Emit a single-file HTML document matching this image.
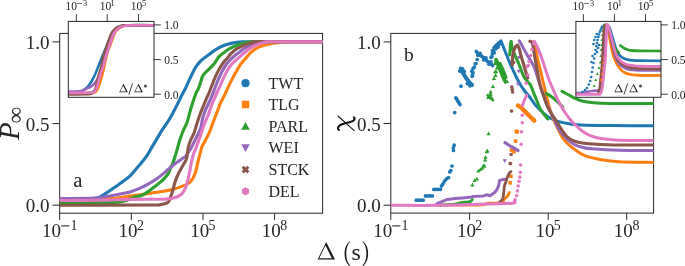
<!DOCTYPE html><html><head><meta charset="utf-8"><style>html,body{margin:0;padding:0;background:#fff;width:685px;height:266px;overflow:hidden}svg{display:block;will-change:transform}text{font-family:"Liberation Serif", serif;fill:#252525}</style></head><body>
<svg width="685" height="266" viewBox="0 0 685 266">
<defs>
<clipPath id="cl"><rect x="59.7" y="33.4" width="262.90000000000003" height="179.79999999999998"/></clipPath>
<clipPath id="cr"><rect x="390.8" y="33.4" width="262.8" height="179.7"/></clipPath>
<clipPath id="cli"><rect x="68.3" y="21.4" width="85.7" height="75.9"/></clipPath>
<clipPath id="cri"><rect x="575.9" y="21.4" width="85.10000000000002" height="75.9"/></clipPath>
</defs>
<rect x="59.7" y="33.4" width="262.90" height="179.80" fill="none" stroke="#262626" stroke-width="1"/>
<line x1="52.50" y1="205.20" x2="59.70" y2="205.20" stroke="#262626" stroke-width="1"/>
<text x="49.60" y="212.40" font-size="19" text-anchor="end">0.0</text>
<line x1="52.50" y1="123.55" x2="59.70" y2="123.55" stroke="#262626" stroke-width="1"/>
<text x="49.60" y="130.75" font-size="19" text-anchor="end">0.5</text>
<line x1="52.50" y1="41.90" x2="59.70" y2="41.90" stroke="#262626" stroke-width="1"/>
<text x="49.60" y="49.10" font-size="19" text-anchor="end">1.0</text>
<line x1="59.70" y1="213.20" x2="59.70" y2="220.00" stroke="#262626" stroke-width="1"/>
<text x="42.03" y="236.80" font-size="19">10</text>
<rect x="61.11" y="225.40" width="8.20" height="1.00" fill="#1a1a1a"/>
<text x="70.48" y="229.80" font-size="13.9">1</text>
<line x1="131.30" y1="213.20" x2="131.30" y2="220.00" stroke="#262626" stroke-width="1"/>
<text x="118.59" y="236.80" font-size="19">10</text>
<text x="137.05" y="229.80" font-size="13.9">2</text>
<line x1="203.00" y1="213.20" x2="203.00" y2="220.00" stroke="#262626" stroke-width="1"/>
<text x="190.27" y="236.80" font-size="19">10</text>
<text x="208.55" y="229.80" font-size="13.9">5</text>
<line x1="274.60" y1="213.20" x2="274.60" y2="220.00" stroke="#262626" stroke-width="1"/>
<text x="261.73" y="236.80" font-size="19">10</text>
<text x="280.28" y="229.80" font-size="13.9">8</text>
<path d="M59.00,199.30 C63.33,199.28 79.17,199.33 85.00,199.20 C90.83,199.07 91.50,198.90 94.00,198.50 C96.50,198.10 97.75,197.83 100.00,196.80 C102.25,195.77 105.00,193.92 107.50,192.30 C110.00,190.68 112.48,188.85 115.00,187.10 C117.52,185.35 120.08,183.68 122.60,181.80 C125.12,179.92 127.85,177.93 130.10,175.80 C132.35,173.67 134.43,170.90 136.10,169.00 C137.77,167.10 138.30,166.63 140.10,164.40 C141.90,162.17 144.92,158.48 146.90,155.60 C148.88,152.72 150.32,149.93 152.00,147.10 C153.68,144.27 155.32,141.42 157.00,138.60 C158.68,135.78 160.12,133.30 162.10,130.20 C164.08,127.10 166.93,123.18 168.90,120.00 C170.87,116.82 172.40,113.90 173.90,111.10 C175.40,108.30 176.58,105.83 177.90,103.20 C179.22,100.57 180.57,97.70 181.80,95.30 C183.03,92.90 184.17,91.13 185.30,88.80 C186.43,86.47 187.50,83.68 188.60,81.30 C189.70,78.92 190.88,76.58 191.90,74.50 C192.92,72.42 193.77,70.45 194.70,68.80 C195.63,67.15 196.57,65.85 197.50,64.60 C198.43,63.35 199.35,62.25 200.30,61.30 C201.25,60.35 202.10,59.77 203.20,58.90 C204.30,58.03 205.65,57.03 206.90,56.10 C208.15,55.17 209.45,54.23 210.70,53.30 C211.95,52.37 213.00,51.45 214.40,50.50 C215.80,49.55 217.53,48.43 219.10,47.60 C220.67,46.77 222.23,46.10 223.80,45.50 C225.37,44.90 226.93,44.43 228.50,44.00 C230.07,43.57 231.38,43.23 233.20,42.90 C235.02,42.57 236.60,42.20 239.40,42.00 C242.20,41.80 236.07,41.75 250.00,41.70 C263.93,41.65 310.83,41.70 323.00,41.70" fill="none" stroke="#1f77b4" stroke-width="3.1" stroke-linejoin="round" stroke-linecap="round" clip-path="url(#cl)"/>
<path d="M59.00,199.80 C65.83,199.72 90.35,199.60 100.00,199.30 C109.65,199.00 111.90,198.53 116.90,198.00 C121.90,197.47 125.30,196.77 130.00,196.10 C134.70,195.43 140.08,194.72 145.10,194.00 C150.12,193.28 155.58,192.57 160.10,191.80 C164.62,191.03 168.88,190.18 172.20,189.40 C175.52,188.62 177.87,187.80 180.00,187.10 C182.13,186.40 183.65,185.78 185.00,185.20 C186.35,184.62 187.10,184.30 188.10,183.60 C189.10,182.90 190.15,181.98 191.00,181.00 C191.85,180.02 192.53,178.95 193.20,177.70 C193.87,176.45 194.45,175.03 195.00,173.50 C195.55,171.97 196.03,170.33 196.50,168.50 C196.97,166.67 197.35,164.42 197.80,162.50 C198.25,160.58 198.75,158.72 199.20,157.00 C199.65,155.28 200.03,153.95 200.50,152.20 C200.97,150.45 201.32,148.20 202.00,146.50 C202.68,144.80 203.67,143.75 204.60,142.00 C205.53,140.25 206.70,137.83 207.60,136.00 C208.50,134.17 209.25,132.83 210.00,131.00 C210.75,129.17 211.20,127.45 212.10,125.00 C213.00,122.55 214.30,119.17 215.40,116.30 C216.50,113.43 217.90,109.93 218.70,107.80 C219.50,105.67 219.57,104.92 220.20,103.50 C220.83,102.08 221.77,100.72 222.50,99.30 C223.23,97.88 223.58,97.17 224.60,95.00 C225.62,92.83 227.28,89.07 228.60,86.30 C229.92,83.53 231.20,80.92 232.50,78.40 C233.80,75.88 235.08,73.50 236.40,71.20 C237.72,68.90 239.17,66.38 240.40,64.60 C241.63,62.82 242.40,62.17 243.80,60.50 C245.20,58.83 247.18,56.30 248.80,54.60 C250.42,52.90 251.93,51.50 253.50,50.30 C255.07,49.10 256.63,48.17 258.20,47.40 C259.77,46.63 261.33,46.18 262.90,45.70 C264.47,45.22 265.83,44.90 267.60,44.50 C269.37,44.10 271.43,43.65 273.50,43.30 C275.57,42.95 277.25,42.65 280.00,42.40 C282.75,42.15 282.83,41.92 290.00,41.80 C297.17,41.68 317.50,41.72 323.00,41.70" fill="none" stroke="#ff7f0e" stroke-width="3.1" stroke-linejoin="round" stroke-linecap="round" clip-path="url(#cl)"/>
<path d="M59.00,202.50 C65.83,202.50 90.17,202.55 100.00,202.50 C109.83,202.45 113.67,202.53 118.00,202.20 C122.33,201.87 123.50,201.27 126.00,200.50 C128.50,199.73 130.33,198.48 133.00,197.60 C135.67,196.72 139.48,196.20 142.00,195.20 C144.52,194.20 146.08,192.95 148.10,191.60 C150.12,190.25 152.10,188.63 154.10,187.10 C156.10,185.57 158.35,183.90 160.10,182.40 C161.85,180.90 163.22,179.60 164.60,178.10 C165.98,176.60 167.35,175.17 168.40,173.40 C169.45,171.63 170.05,169.52 170.90,167.50 C171.75,165.48 172.73,163.38 173.50,161.30 C174.27,159.22 174.92,156.88 175.50,155.00 C176.08,153.12 176.25,152.58 177.00,150.00 C177.75,147.42 178.95,142.75 180.00,139.50 C181.05,136.25 182.17,133.25 183.30,130.50 C184.43,127.75 185.83,125.58 186.80,123.00 C187.77,120.42 188.28,117.87 189.10,115.00 C189.92,112.13 190.83,108.65 191.70,105.80 C192.57,102.95 193.53,100.12 194.30,97.90 C195.07,95.68 195.63,94.00 196.30,92.50 C196.97,91.00 197.57,90.65 198.30,88.90 C199.03,87.15 200.15,83.67 200.70,82.00 C201.25,80.33 201.32,79.82 201.60,78.90 C201.88,77.98 201.75,77.57 202.40,76.50 C203.05,75.43 204.32,73.82 205.50,72.50 C206.68,71.18 208.18,69.92 209.50,68.60 C210.82,67.28 212.42,65.70 213.40,64.60 C214.38,63.50 214.82,62.83 215.40,62.00 C215.98,61.17 216.28,60.50 216.90,59.60 C217.52,58.70 217.95,57.77 219.10,56.60 C220.25,55.43 222.23,53.82 223.80,52.60 C225.37,51.38 226.93,50.27 228.50,49.30 C230.07,48.33 231.63,47.55 233.20,46.80 C234.77,46.05 236.03,45.42 237.90,44.80 C239.77,44.18 242.38,43.55 244.40,43.10 C246.42,42.65 247.73,42.33 250.00,42.10 C252.27,41.87 245.83,41.77 258.00,41.70 C270.17,41.63 312.17,41.70 323.00,41.70" fill="none" stroke="#2ca02c" stroke-width="3.1" stroke-linejoin="round" stroke-linecap="round" clip-path="url(#cl)"/>
<path d="M59.00,198.50 C64.17,198.48 83.17,198.55 90.00,198.40 C96.83,198.25 96.45,198.03 100.00,197.60 C103.55,197.17 107.53,196.48 111.30,195.80 C115.07,195.12 119.48,194.15 122.60,193.50 C125.72,192.85 127.27,192.72 130.00,191.90 C132.73,191.08 135.98,189.90 139.00,188.60 C142.02,187.30 145.08,185.78 148.10,184.10 C151.12,182.42 154.10,180.63 157.10,178.50 C160.10,176.37 163.78,173.22 166.10,171.30 C168.42,169.38 169.35,168.38 171.00,167.00 C172.65,165.62 174.17,164.37 176.00,163.00 C177.83,161.63 180.37,159.97 182.00,158.80 C183.63,157.63 184.80,157.03 185.80,156.00 C186.80,154.97 187.12,153.93 188.00,152.60 C188.88,151.27 190.08,149.77 191.10,148.00 C192.12,146.23 193.10,144.00 194.10,142.00 C195.10,140.00 196.10,138.08 197.10,136.00 C198.10,133.92 199.35,131.50 200.10,129.50 C200.85,127.50 201.12,126.08 201.60,124.00 C202.08,121.92 202.23,119.60 203.00,117.00 C203.77,114.40 205.12,110.98 206.20,108.40 C207.28,105.82 208.45,103.82 209.50,101.50 C210.55,99.18 211.50,97.00 212.50,94.50 C213.50,92.00 214.47,89.15 215.50,86.50 C216.53,83.85 217.62,81.08 218.70,78.60 C219.78,76.12 220.80,73.87 222.00,71.60 C223.20,69.33 224.58,66.90 225.90,65.00 C227.22,63.10 228.43,61.73 229.90,60.20 C231.37,58.67 233.12,57.15 234.70,55.80 C236.28,54.45 237.83,53.32 239.40,52.10 C240.97,50.88 242.53,49.52 244.10,48.50 C245.67,47.48 247.23,46.77 248.80,46.00 C250.37,45.23 251.93,44.45 253.50,43.90 C255.07,43.35 256.28,43.03 258.20,42.70 C260.12,42.37 262.20,42.07 265.00,41.90 C267.80,41.73 265.33,41.73 275.00,41.70 C284.67,41.67 315.00,41.70 323.00,41.70" fill="none" stroke="#9467bd" stroke-width="3.1" stroke-linejoin="round" stroke-linecap="round" clip-path="url(#cl)"/>
<path d="M59.00,205.30 C74.17,205.25 133.17,205.12 150.00,205.00 C166.83,204.88 157.58,204.80 160.00,204.60 C162.42,204.40 163.12,204.23 164.50,203.80 C165.88,203.37 167.25,203.23 168.30,202.00 C169.35,200.77 169.98,198.57 170.80,196.40 C171.62,194.23 172.55,191.23 173.20,189.00 C173.85,186.77 173.93,185.33 174.70,183.00 C175.47,180.67 176.78,177.30 177.80,175.00 C178.82,172.70 179.90,170.87 180.80,169.20 C181.70,167.53 182.33,166.53 183.20,165.00 C184.07,163.47 185.35,161.50 186.00,160.00 C186.65,158.50 186.82,157.42 187.10,156.00 C187.38,154.58 187.45,153.17 187.70,151.50 C187.95,149.83 188.03,148.08 188.60,146.00 C189.17,143.92 190.18,141.17 191.10,139.00 C192.02,136.83 193.23,135.25 194.10,133.00 C194.97,130.75 195.38,128.42 196.30,125.50 C197.22,122.58 198.50,118.57 199.60,115.50 C200.70,112.43 201.80,109.82 202.90,107.10 C204.00,104.38 205.15,101.63 206.20,99.20 C207.25,96.77 208.30,94.65 209.20,92.50 C210.10,90.35 210.68,88.65 211.60,86.30 C212.52,83.95 213.63,80.88 214.70,78.40 C215.77,75.92 216.90,73.53 218.00,71.40 C219.10,69.27 220.25,67.25 221.30,65.60 C222.35,63.95 223.27,62.77 224.30,61.50 C225.33,60.23 226.47,59.23 227.50,58.00 C228.53,56.77 229.30,55.40 230.50,54.10 C231.70,52.80 233.22,51.32 234.70,50.20 C236.18,49.08 237.83,48.22 239.40,47.40 C240.97,46.58 242.53,45.93 244.10,45.30 C245.67,44.67 247.23,44.08 248.80,43.60 C250.37,43.12 251.93,42.70 253.50,42.40 C255.07,42.10 246.62,41.92 258.20,41.80 C269.78,41.68 312.20,41.72 323.00,41.70" fill="none" stroke="#8c564b" stroke-width="3.1" stroke-linejoin="round" stroke-linecap="round" clip-path="url(#cl)"/>
<path d="M59.00,200.50 C65.83,200.47 88.17,200.48 100.00,200.30 C111.83,200.12 120.00,199.58 130.00,199.40 C140.00,199.22 153.72,199.28 160.00,199.20 C166.28,199.12 165.30,199.15 167.70,198.90 C170.10,198.65 172.68,198.13 174.40,197.70 C176.12,197.27 176.77,196.95 178.00,196.30 C179.23,195.65 180.72,194.85 181.80,193.80 C182.88,192.75 183.68,191.60 184.50,190.00 C185.32,188.40 185.93,186.77 186.70,184.20 C187.47,181.63 188.33,178.13 189.10,174.60 C189.87,171.07 190.67,166.10 191.30,163.00 C191.93,159.90 192.30,158.08 192.90,156.00 C193.50,153.92 193.98,152.92 194.90,150.50 C195.82,148.08 197.32,144.50 198.40,141.50 C199.48,138.50 200.42,135.42 201.40,132.50 C202.38,129.58 203.17,126.92 204.30,124.00 C205.43,121.08 207.02,118.03 208.20,115.00 C209.38,111.97 210.32,108.65 211.40,105.80 C212.48,102.95 213.68,100.28 214.70,97.90 C215.72,95.52 216.62,93.43 217.50,91.50 C218.38,89.57 219.03,88.48 220.00,86.30 C220.97,84.12 222.10,81.00 223.30,78.40 C224.50,75.80 225.88,72.97 227.20,70.70 C228.52,68.43 229.98,66.35 231.20,64.80 C232.42,63.25 233.37,62.48 234.50,61.40 C235.63,60.32 236.85,59.32 238.00,58.30 C239.15,57.28 240.38,56.18 241.40,55.30 C242.42,54.42 242.87,54.00 244.10,53.00 C245.33,52.00 247.23,50.42 248.80,49.30 C250.37,48.18 251.93,47.17 253.50,46.30 C255.07,45.43 256.63,44.70 258.20,44.10 C259.77,43.50 261.33,43.07 262.90,42.70 C264.47,42.33 265.58,42.07 267.60,41.90 C269.62,41.73 265.77,41.73 275.00,41.70 C284.23,41.67 315.00,41.70 323.00,41.70" fill="none" stroke="#e377c2" stroke-width="3.1" stroke-linejoin="round" stroke-linecap="round" clip-path="url(#cl)"/>
<circle cx="245.5" cy="83.2" r="4.1" fill="#1f77b4"/>
<rect x="241.8" y="100.8" width="7.4" height="7.4" fill="#ff7f0e"/>
<path d="M245.5,121.9 L249.8,129.7 L241.2,129.7Z" fill="#2ca02c"/>
<path d="M245.5,152.10000000000002 L249.8,144.3 L241.2,144.3Z" fill="#9467bd"/>
<path d="M241.6,167.85 L243.75,165.7 L245.5,167.5 L247.25,165.7 L249.4,167.85 L247.6,169.6 L249.4,171.35 L247.25,173.5 L245.5,171.7 L243.75,173.5 L241.6,171.35 L243.4,169.6Z" fill="#8c564b"/>
<polygon points="245.50,195.40 241.95,193.35 241.95,189.25 245.50,187.20 249.05,189.25 249.05,193.35" fill="#e377c2"/>
<text x="268.50" y="88.50" font-size="16" text-anchor="start">TWT</text>
<text x="268.50" y="109.80" font-size="16" text-anchor="start">TLG</text>
<text x="268.50" y="131.50" font-size="16" text-anchor="start">PARL</text>
<text x="268.50" y="153.10" font-size="16" text-anchor="start">WEI</text>
<text x="268.50" y="174.90" font-size="16" text-anchor="start">STCK</text>
<text x="268.50" y="196.60" font-size="16" text-anchor="start">DEL</text>
<text x="73.2" y="187.2" font-size="20" textLength="9.2" lengthAdjust="spacingAndGlyphs">a</text>
<rect x="68.3" y="21.4" width="85.70" height="75.90" fill="#fff" stroke="none"/>
<path d="M67.00,92.60 C68.83,92.57 75.35,92.73 78.00,92.40 C80.65,92.07 81.13,91.72 82.90,90.60 C84.67,89.48 86.72,88.08 88.60,85.70 C90.48,83.32 92.48,79.75 94.20,76.30 C95.92,72.85 97.48,68.45 98.90,65.00 C100.32,61.55 101.60,58.27 102.70,55.60 C103.80,52.93 104.53,51.35 105.50,49.00 C106.47,46.65 107.50,43.92 108.50,41.50 C109.50,39.08 110.50,36.42 111.50,34.50 C112.50,32.58 113.42,31.22 114.50,30.00 C115.58,28.78 116.58,27.93 118.00,27.20 C119.42,26.47 121.00,25.93 123.00,25.60 C125.00,25.27 124.67,25.27 130.00,25.20 C135.33,25.13 150.83,25.20 155.00,25.20" fill="none" stroke="#1f77b4" stroke-width="2.6" stroke-linejoin="round" stroke-linecap="round" clip-path="url(#cli)"/>
<path d="M67.00,93.00 C71.17,92.97 87.17,93.05 92.00,92.80 C96.83,92.55 94.92,92.47 96.00,91.50 C97.08,90.53 97.58,89.33 98.50,87.00 C99.42,84.67 100.67,80.33 101.50,77.50 C102.33,74.67 102.82,72.92 103.50,70.00 C104.18,67.08 104.77,63.50 105.60,60.00 C106.43,56.50 107.75,51.40 108.50,49.00 C109.25,46.60 109.08,48.18 110.10,45.60 C111.12,43.02 113.32,36.18 114.60,33.50 C115.88,30.82 116.60,30.62 117.80,29.50 C119.00,28.38 120.20,27.47 121.80,26.80 C123.40,26.13 125.53,25.77 127.40,25.50 C129.27,25.23 128.40,25.25 133.00,25.20 C137.60,25.15 151.33,25.20 155.00,25.20" fill="none" stroke="#ff7f0e" stroke-width="2.6" stroke-linejoin="round" stroke-linecap="round" clip-path="url(#cli)"/>
<path d="M67.00,93.40 C70.17,93.37 81.83,93.37 86.00,93.20 C90.17,93.03 90.33,93.18 92.00,92.40 C93.67,91.62 94.75,91.07 96.00,88.50 C97.25,85.93 98.42,80.92 99.50,77.00 C100.58,73.08 101.58,68.67 102.50,65.00 C103.42,61.33 104.08,58.33 105.00,55.00 C105.92,51.67 107.00,48.08 108.00,45.00 C109.00,41.92 110.00,38.83 111.00,36.50 C112.00,34.17 112.92,32.45 114.00,31.00 C115.08,29.55 116.17,28.67 117.50,27.80 C118.83,26.93 120.25,26.23 122.00,25.80 C123.75,25.37 122.50,25.30 128.00,25.20 C133.50,25.10 150.50,25.20 155.00,25.20" fill="none" stroke="#2ca02c" stroke-width="2.6" stroke-linejoin="round" stroke-linecap="round" clip-path="url(#cli)"/>
<path d="M67.00,91.60 C69.17,91.55 77.03,91.65 80.00,91.30 C82.97,90.95 82.75,90.43 84.80,89.50 C86.85,88.57 90.27,87.27 92.30,85.70 C94.33,84.13 95.58,82.60 97.00,80.10 C98.42,77.60 99.53,74.15 100.80,70.70 C102.07,67.25 103.35,63.10 104.60,59.40 C105.85,55.70 107.15,51.90 108.30,48.50 C109.45,45.10 110.47,41.72 111.50,39.00 C112.53,36.28 113.42,34.00 114.50,32.20 C115.58,30.40 116.67,29.20 118.00,28.20 C119.33,27.20 120.83,26.65 122.50,26.20 C124.17,25.75 122.58,25.63 128.00,25.50 C133.42,25.37 150.50,25.42 155.00,25.40" fill="none" stroke="#9467bd" stroke-width="2.6" stroke-linejoin="round" stroke-linecap="round" clip-path="url(#cli)"/>
<path d="M67.00,94.40 C70.50,94.38 83.78,94.48 88.00,94.30 C92.22,94.12 91.10,94.10 92.30,93.30 C93.50,92.50 94.25,92.02 95.20,89.50 C96.15,86.98 96.92,82.28 98.00,78.20 C99.08,74.12 100.95,68.03 101.70,65.00 C102.45,61.97 101.95,62.25 102.50,60.00 C103.05,57.75 104.25,53.90 105.00,51.50 C105.75,49.10 106.28,47.68 107.00,45.60 C107.72,43.52 108.55,41.02 109.30,39.00 C110.05,36.98 110.63,35.08 111.50,33.50 C112.37,31.92 113.42,30.58 114.50,29.50 C115.58,28.42 116.58,27.67 118.00,27.00 C119.42,26.33 121.33,25.80 123.00,25.50 C124.67,25.20 122.67,25.25 128.00,25.20 C133.33,25.15 150.50,25.20 155.00,25.20" fill="none" stroke="#8c564b" stroke-width="2.6" stroke-linejoin="round" stroke-linecap="round" clip-path="url(#cli)"/>
<path d="M67.00,92.90 C70.83,92.87 85.47,92.87 90.00,92.70 C94.53,92.53 93.03,92.90 94.20,91.90 C95.37,90.90 96.05,89.30 97.00,86.70 C97.95,84.10 98.80,79.92 99.90,76.30 C101.00,72.68 102.78,67.72 103.60,65.00 C104.42,62.28 104.20,62.17 104.80,60.00 C105.40,57.83 106.45,54.40 107.20,52.00 C107.95,49.60 108.58,47.77 109.30,45.60 C110.02,43.43 110.75,41.02 111.50,39.00 C112.25,36.98 112.88,35.08 113.80,33.50 C114.72,31.92 115.80,30.62 117.00,29.50 C118.20,28.38 119.40,27.47 121.00,26.80 C122.60,26.13 124.77,25.77 126.60,25.50 C128.43,25.23 127.27,25.25 132.00,25.20 C136.73,25.15 151.17,25.20 155.00,25.20" fill="none" stroke="#e377c2" stroke-width="2.6" stroke-linejoin="round" stroke-linecap="round" clip-path="url(#cli)"/>
<rect x="68.3" y="21.4" width="85.70" height="75.90" fill="none" stroke="#262626" stroke-width="1"/>
<line x1="76.35" y1="14.20" x2="76.35" y2="21.40" stroke="#262626" stroke-width="0.9"/>
<text x="65.42" y="10.10" font-size="11.5">10</text>
<rect x="76.97" y="3.20" width="4.96" height="0.61" fill="#1a1a1a"/>
<text x="82.98" y="5.60" font-size="8.4">3</text>
<line x1="107.20" y1="14.20" x2="107.20" y2="21.40" stroke="#262626" stroke-width="0.9"/>
<text x="99.73" y="10.10" font-size="11.5">10</text>
<text x="110.54" y="5.60" font-size="8.4">1</text>
<line x1="138.50" y1="14.20" x2="138.50" y2="21.40" stroke="#262626" stroke-width="0.9"/>
<text x="130.82" y="10.10" font-size="11.5">10</text>
<text x="141.88" y="5.60" font-size="8.4">5</text>
<line x1="154.00" y1="94.20" x2="160.80" y2="94.20" stroke="#262626" stroke-width="0.9"/>
<text x="164.20" y="98.50" font-size="11.5" text-anchor="start">0.0</text>
<line x1="154.00" y1="59.55" x2="160.80" y2="59.55" stroke="#262626" stroke-width="0.9"/>
<text x="164.20" y="63.85" font-size="11.5" text-anchor="start">0.5</text>
<line x1="154.00" y1="24.90" x2="160.80" y2="24.90" stroke="#262626" stroke-width="0.9"/>
<text x="164.20" y="29.20" font-size="11.5" text-anchor="start">1.0</text>
<path d="M123.45,83.80 L127.80,92.30 L119.20,92.30 Z M123.09,85.63 L120.16,91.50 L126.10,91.50 Z" fill="#1a1a1a" fill-rule="evenodd"/>
<line x1="128.80" y1="94.6" x2="132.60" y2="83.4" stroke="#1a1a1a" stroke-width="0.85"/>
<path d="M138.50,83.80 L142.90,92.30 L134.20,92.30 Z M138.14,85.61 L135.16,91.50 L141.19,91.50 Z" fill="#1a1a1a" fill-rule="evenodd"/>
<circle cx="145.40" cy="86.0" r="1.55" fill="#505050"/>
<rect x="390.8" y="33.4" width="262.80" height="179.70" fill="none" stroke="#262626" stroke-width="1"/>
<line x1="383.60" y1="205.20" x2="390.80" y2="205.20" stroke="#262626" stroke-width="1"/>
<text x="380.70" y="212.40" font-size="19" text-anchor="end">0.0</text>
<line x1="383.60" y1="123.55" x2="390.80" y2="123.55" stroke="#262626" stroke-width="1"/>
<text x="380.70" y="130.75" font-size="19" text-anchor="end">0.5</text>
<line x1="383.60" y1="41.90" x2="390.80" y2="41.90" stroke="#262626" stroke-width="1"/>
<text x="380.70" y="49.10" font-size="19" text-anchor="end">1.0</text>
<line x1="390.80" y1="213.10" x2="390.80" y2="219.90" stroke="#262626" stroke-width="1"/>
<text x="373.13" y="236.80" font-size="19">10</text>
<rect x="392.21" y="225.40" width="8.20" height="1.00" fill="#1a1a1a"/>
<text x="401.58" y="229.80" font-size="13.9">1</text>
<line x1="469.60" y1="213.10" x2="469.60" y2="219.90" stroke="#262626" stroke-width="1"/>
<text x="456.89" y="236.80" font-size="19">10</text>
<text x="475.35" y="229.80" font-size="13.9">2</text>
<line x1="548.20" y1="213.10" x2="548.20" y2="219.90" stroke="#262626" stroke-width="1"/>
<text x="535.47" y="236.80" font-size="19">10</text>
<text x="553.75" y="229.80" font-size="13.9">5</text>
<line x1="626.70" y1="213.10" x2="626.70" y2="219.90" stroke="#262626" stroke-width="1"/>
<text x="613.83" y="236.80" font-size="19">10</text>
<text x="632.38" y="229.80" font-size="13.9">8</text>
<g fill="#1f77b4" clip-path="url(#cr)"><circle cx="416.3" cy="200.2" r="1.85"/><circle cx="418.6" cy="200.2" r="1.85"/><circle cx="420.9" cy="200.2" r="1.85"/><circle cx="423.2" cy="200.2" r="1.85"/><circle cx="425.5" cy="195.9" r="1.85"/><circle cx="427.8" cy="195.9" r="1.85"/><circle cx="430.1" cy="195.9" r="1.85"/><circle cx="432.4" cy="195.9" r="1.85"/><circle cx="433.8" cy="189.4" r="1.85"/><circle cx="436.0" cy="189.4" r="1.85"/><circle cx="438.2" cy="189.4" r="1.85"/><circle cx="440.4" cy="189.4" r="1.85"/><circle cx="441.5" cy="186.0" r="1.85"/><circle cx="442.6" cy="184.3" r="1.85"/><circle cx="444.0" cy="182.0" r="1.85"/><circle cx="445.5" cy="180.0" r="1.85"/><circle cx="447.0" cy="178.5" r="1.85"/><circle cx="448.6" cy="177.5" r="1.85"/><circle cx="449.8" cy="172.0" r="1.85"/><circle cx="450.8" cy="170.5" r="1.85"/><circle cx="452.0" cy="166.0" r="1.85"/><circle cx="453.5" cy="150.5" r="1.85"/><circle cx="453.3" cy="147.8" r="1.85"/><circle cx="454.2" cy="145.2" r="1.85"/><circle cx="454.7" cy="112.6" r="1.85"/><circle cx="461.0" cy="86.2" r="1.85"/><circle cx="473.0" cy="72.5" r="1.85"/><circle cx="472.2" cy="76.2" r="1.85"/><circle cx="474.2" cy="67.2" r="1.85"/><circle cx="476.0" cy="63.5" r="1.85"/><circle cx="473.0" cy="68.5" r="1.85"/><circle cx="475.2" cy="63.8" r="1.85"/><circle cx="477.3" cy="59.5" r="1.85"/><circle cx="491.0" cy="57.5" r="1.85"/><circle cx="492.4" cy="53.5" r="1.85"/><circle cx="493.8" cy="50.5" r="1.85"/><circle cx="471.8" cy="71.2" r="1.85"/><circle cx="472.6" cy="74.8" r="1.85"/></g>
<path d="M455.80,97.80 L460.00,104.60" fill="none" stroke="#1f77b4" stroke-width="3.6" stroke-linejoin="round" stroke-linecap="round" clip-path="url(#cr)"/>
<path d="M460.80,68.50 L463.00,73.00 L466.00,78.00 L469.50,82.50 L472.00,85.00" fill="none" stroke="#1f77b4" stroke-width="4.0" stroke-linejoin="round" stroke-linecap="round" clip-path="url(#cr)"/>
<g fill="#1f77b4" clip-path="url(#cr)"><circle cx="462.5" cy="68.8" r="1.9"/><circle cx="464.2" cy="71.5" r="1.9"/><circle cx="459.8" cy="71.0" r="1.9"/><circle cx="467.5" cy="83.5" r="1.9"/><circle cx="470.0" cy="85.8" r="1.9"/></g>
<path d="M476.20,51.50 L479.00,54.50 L482.00,56.50 L484.50,58.20 L487.00,61.00 L490.00,63.00 L492.50,65.50" fill="none" stroke="#1f77b4" stroke-width="3.6" stroke-linejoin="round" stroke-linecap="round" clip-path="url(#cr)"/>
<g fill="#1f77b4" clip-path="url(#cr)"><circle cx="477.8" cy="55.4" r="1.8"/><circle cx="480.2" cy="53.4" r="1.8"/><circle cx="483.5" cy="60.0" r="1.8"/><circle cx="486.0" cy="57.8" r="1.8"/><circle cx="488.8" cy="64.2" r="1.8"/><circle cx="491.0" cy="61.8" r="1.8"/></g>
<path d="M494.60,47.80 L497.00,45.50 L500.30,42.60" fill="none" stroke="#1f77b4" stroke-width="4.6" stroke-linejoin="round" stroke-linecap="round" clip-path="url(#cr)"/>
<g fill="#1f77b4" clip-path="url(#cr)"><circle cx="492.5" cy="50.6" r="1.9"/><circle cx="494.1" cy="52.9" r="1.9"/><circle cx="491.9" cy="56.3" r="1.9"/><circle cx="496.0" cy="48.6" r="1.9"/><circle cx="498.2" cy="47.0" r="1.9"/></g>
<path d="M500.90,40.80 C501.58,42.50 503.65,47.63 505.00,51.00 C506.35,54.37 507.67,57.83 509.00,61.00 C510.33,64.17 511.75,67.25 513.00,70.00 C514.25,72.75 515.33,75.17 516.50,77.50 C517.67,79.83 518.70,81.83 520.00,84.00 C521.30,86.17 522.63,88.25 524.30,90.50 C525.97,92.75 528.12,95.03 530.00,97.50 C531.88,99.97 533.72,103.05 535.60,105.30 C537.48,107.55 539.43,109.22 541.30,111.00 C543.17,112.78 544.93,114.63 546.80,116.00 C548.67,117.37 550.62,118.30 552.50,119.20 C554.38,120.10 555.58,120.70 558.10,121.40 C560.62,122.10 564.78,122.88 567.60,123.40 C570.42,123.92 571.93,124.20 575.00,124.50 C578.07,124.80 580.17,125.02 586.00,125.20 C591.83,125.38 598.67,125.50 610.00,125.60 C621.33,125.70 646.67,125.77 654.00,125.80" fill="none" stroke="#1f77b4" stroke-width="3.0" stroke-linejoin="round" stroke-linecap="round" clip-path="url(#cr)"/>
<path d="M440.00,205.20 C446.67,205.17 471.97,205.33 480.00,205.00 C488.03,204.67 485.20,203.53 488.20,203.20 C491.20,202.87 495.57,203.30 498.00,203.00 C500.43,202.70 501.73,202.07 502.80,201.40 C503.87,200.73 503.58,199.93 504.40,199.00 C505.22,198.07 506.88,196.88 507.70,195.80 C508.52,194.72 509.03,193.05 509.30,192.50" fill="none" stroke="#ff7f0e" stroke-width="2.8" stroke-linejoin="round" stroke-linecap="round" clip-path="url(#cr)"/>
<g fill="#ff7f0e" clip-path="url(#cr)"><rect x="508.3" y="181.0" width="3.6" height="3.6"/><rect x="509.1" y="174.5" width="3.6" height="3.6"/><rect x="509.7" y="148.2" width="3.6" height="3.6"/><rect x="512.0" y="147.8" width="3.6" height="3.6"/><rect x="512.0" y="150.0" width="3.6" height="3.6"/><rect x="513.8" y="139.3" width="3.6" height="3.6"/><rect x="515.4" y="130.1" width="3.6" height="3.6"/><rect x="514.6" y="129.5" width="3.6" height="3.6"/></g>
<path d="M518.00,105.50 L521.00,107.50 L526.00,112.50 L530.00,116.50 L534.30,120.60" fill="none" stroke="#ff7f0e" stroke-width="4.4" stroke-linejoin="round" stroke-linecap="round" clip-path="url(#cr)"/>
<path d="M522.30,105.50 L524.50,100.00 L526.80,95.00" fill="none" stroke="#e377c2" stroke-width="3.0" stroke-linejoin="round" stroke-linecap="round" clip-path="url(#cr)"/>
<path d="M535.00,43.50 C535.42,46.00 536.62,54.12 537.50,58.50 C538.38,62.88 539.20,65.22 540.30,69.80 C541.40,74.38 543.10,81.80 544.10,86.00 C545.10,90.20 545.48,91.67 546.30,95.00 C547.12,98.33 548.13,102.83 549.00,106.00 C549.87,109.17 550.75,111.75 551.50,114.00 C552.25,116.25 552.42,117.00 553.50,119.50 C554.58,122.00 556.48,125.98 558.00,129.00 C559.52,132.02 560.93,135.10 562.60,137.60 C564.27,140.10 566.13,142.13 568.00,144.00 C569.87,145.87 570.97,146.87 573.80,148.80 C576.63,150.73 580.13,153.72 585.00,155.60 C589.87,157.48 597.33,159.08 603.00,160.10 C608.67,161.12 610.50,161.32 619.00,161.70 C627.50,162.08 648.17,162.28 654.00,162.40" fill="none" stroke="#ff7f0e" stroke-width="3.0" stroke-linejoin="round" stroke-linecap="round" clip-path="url(#cr)"/>
<path d="M440.00,205.20 C442.50,205.03 451.73,204.60 455.00,204.20 C458.27,203.80 457.93,203.13 459.60,202.80 C461.27,202.47 463.25,202.40 465.00,202.20 C466.75,202.00 468.87,202.07 470.10,201.60 C471.33,201.13 472.02,199.77 472.40,199.40" fill="none" stroke="#2ca02c" stroke-width="2.8" stroke-linejoin="round" stroke-linecap="round" clip-path="url(#cr)"/>
<g fill="#2ca02c" clip-path="url(#cr)"><path d="M472.4,182.7 L474.5,186.5 L470.3,186.5Z"/><path d="M474.6,178.2 L476.7,182.0 L472.5,182.0Z"/><path d="M476.9,176.7 L479.0,180.5 L474.8,180.5Z"/><path d="M478.4,168.7 L480.5,172.5 L476.3,172.5Z"/><path d="M480.5,167.2 L482.6,171.0 L478.4,171.0Z"/><path d="M482.5,165.7 L484.6,169.5 L480.4,169.5Z"/><path d="M484.5,163.7 L486.6,167.5 L482.4,167.5Z"/><path d="M483.4,163.6 L485.5,167.4 L481.3,167.4Z"/><path d="M485.2,157.7 L487.3,161.5 L483.1,161.5Z"/><path d="M485.6,155.0 L487.7,158.8 L483.5,158.8Z"/><path d="M486.8,149.4 L488.9,153.2 L484.7,153.2Z"/><path d="M487.4,148.8 L489.5,152.6 L485.3,152.6Z"/><path d="M488.6,131.4 L490.7,135.2 L486.5,135.2Z"/><path d="M488.3,95.2 L490.4,99.0 L486.2,99.0Z"/><path d="M489.5,93.7 L491.6,97.5 L487.4,97.5Z"/><path d="M490.6,92.1 L492.7,95.9 L488.5,95.9Z"/><path d="M491.7,95.7 L493.8,99.5 L489.6,99.5Z"/><path d="M490.6,89.8 L492.7,93.6 L488.5,93.6Z"/><path d="M492.9,84.2 L495.0,88.0 L490.8,88.0Z"/><path d="M494.0,76.3 L496.1,80.1 L491.9,80.1Z"/><path d="M495.1,69.5 L497.2,73.3 L493.0,73.3Z"/><path d="M495.5,73.2 L497.6,77.0 L493.4,77.0Z"/><path d="M496.2,69.4 L498.3,73.2 L494.1,73.2Z"/><path d="M497.0,65.7 L499.1,69.5 L494.9,69.5Z"/><path d="M496.2,58.2 L498.3,62.0 L494.1,62.0Z"/></g>
<path d="M487.60,95.20 L493.00,100.40" fill="none" stroke="#2ca02c" stroke-width="2.6" stroke-linejoin="round" stroke-linecap="round" clip-path="url(#cr)"/>
<path d="M496.00,59.50 L498.50,66.00 L501.00,72.00 L503.00,77.00 L505.50,82.00" fill="none" stroke="#2ca02c" stroke-width="3.6" stroke-linejoin="round" stroke-linecap="round" clip-path="url(#cr)"/>
<g fill="#2ca02c" clip-path="url(#cr)"><path d="M497.8,59.8 L499.8,63.4 L495.8,63.4Z"/><path d="M499.6,66.3 L501.6,69.9 L497.6,69.9Z"/><path d="M502.5,71.3 L504.5,74.9 L500.5,74.9Z"/><path d="M504.5,77.3 L506.5,80.9 L502.5,80.9Z"/><path d="M507.0,79.3 L509.0,82.9 L505.0,82.9Z"/><path d="M494.8,61.3 L496.8,64.9 L492.8,64.9Z"/></g>
<path d="M500.00,63.50 L503.00,70.00 L506.00,77.50" fill="none" stroke="#2ca02c" stroke-width="3.2" stroke-linejoin="round" stroke-linecap="round" clip-path="url(#cr)"/>
<path d="M509.80,55.00 C509.90,53.50 510.17,48.30 510.40,46.00 C510.63,43.70 510.93,41.03 511.20,41.20 C511.47,41.37 511.50,45.03 512.00,47.00 C512.50,48.97 513.45,51.00 514.20,53.00 C514.95,55.00 515.75,57.25 516.50,59.00 C517.25,60.75 517.95,61.75 518.70,63.50 C519.45,65.25 520.12,67.25 521.00,69.50 C521.88,71.75 522.83,74.92 524.00,77.00 C525.17,79.08 526.83,80.50 528.00,82.00 C529.17,83.50 530.12,84.33 531.00,86.00 C531.88,87.67 532.30,89.50 533.30,92.00 C534.30,94.50 535.88,98.25 537.00,101.00 C538.12,103.75 539.00,106.50 540.00,108.50 C541.00,110.50 541.87,111.45 543.00,113.00 C544.13,114.55 545.97,116.80 546.80,117.80 C547.63,118.80 547.80,118.80 548.00,119.00" fill="none" stroke="#2ca02c" stroke-width="3.0" stroke-linejoin="round" stroke-linecap="round" clip-path="url(#cr)"/>
<path d="M546.30,93.50 C547.25,94.08 550.22,95.67 552.00,97.00 C553.78,98.33 555.20,99.83 557.00,101.50 C558.80,103.17 561.83,106.08 562.80,107.00" fill="none" stroke="#2ca02c" stroke-width="3.0" stroke-linejoin="round" stroke-linecap="round" clip-path="url(#cr)"/>
<path d="M562.00,91.30 C563.00,91.83 565.83,93.32 568.00,94.50 C570.17,95.68 572.50,97.28 575.00,98.40 C577.50,99.52 580.17,100.50 583.00,101.20 C585.83,101.90 587.50,102.22 592.00,102.60 C596.50,102.98 599.67,103.33 610.00,103.50 C620.33,103.67 646.67,103.58 654.00,103.60" fill="none" stroke="#2ca02c" stroke-width="3.0" stroke-linejoin="round" stroke-linecap="round" clip-path="url(#cr)"/>
<path d="M436.90,203.60 L440.00,202.40 L447.50,199.40 L455.00,198.60 L462.60,197.90 L471.60,197.10 L473.10,196.40 L483.70,195.90 L486.70,194.80 L489.90,195.80 L494.70,192.50 L497.10,189.30 L498.80,185.20 L499.60,180.40 L502.80,179.60 L505.20,179.30" fill="none" stroke="#9467bd" stroke-width="3.0" stroke-linejoin="round" stroke-linecap="round" clip-path="url(#cr)"/>
<g fill="#9467bd" clip-path="url(#cr)"><path d="M504.7,163.1 L506.8,159.3 L502.6,159.3Z"/><path d="M518.8,73.6 L520.9,69.8 L516.7,69.8Z"/><path d="M518.0,86.3 L520.1,82.5 L515.9,82.5Z"/></g>
<g fill="#9467bd" clip-path="url(#cr)"><circle cx="518.7" cy="57.5" r="1.4"/></g>
<path d="M505.00,142.70 L511.00,146.50 L518.00,150.50" fill="none" stroke="#9467bd" stroke-width="3.2" stroke-linejoin="round" stroke-linecap="round" clip-path="url(#cr)"/>
<path d="M519.30,40.80 C519.92,41.92 521.60,44.97 523.00,47.50 C524.40,50.03 526.53,54.00 527.70,56.00 C528.87,58.00 528.83,57.42 530.00,59.50 C531.17,61.58 533.03,64.25 534.70,68.50 C536.37,72.75 538.07,79.25 540.00,85.00 C541.93,90.75 544.63,98.67 546.30,103.00 C547.97,107.33 548.55,108.00 550.00,111.00 C551.45,114.00 553.67,118.17 555.00,121.00 C556.33,123.83 556.33,125.33 558.00,128.00 C559.67,130.67 562.37,134.28 565.00,137.00 C567.63,139.72 570.80,142.55 573.80,144.30 C576.80,146.05 579.98,146.75 583.00,147.50 C586.02,148.25 585.90,148.35 591.90,148.80 C597.90,149.25 608.65,149.93 619.00,150.20 C629.35,150.47 648.17,150.37 654.00,150.40" fill="none" stroke="#9467bd" stroke-width="3.0" stroke-linejoin="round" stroke-linecap="round" clip-path="url(#cr)"/>
<path d="M499.60,202.20 L502.80,199.00 L503.60,194.10 L504.40,186.00 L506.00,181.20 L507.70,176.30 L509.30,173.10 L510.90,171.50" fill="none" stroke="#8c564b" stroke-width="2.8" stroke-linejoin="round" stroke-linecap="round" clip-path="url(#cr)"/>
<g fill="#8c564b" clip-path="url(#cr)"><circle cx="510.3" cy="163.6" r="1.8"/><circle cx="511.1" cy="154.5" r="1.8"/><circle cx="511.5" cy="111.1" r="1.8"/><circle cx="510.4" cy="163.6" r="1.8"/><circle cx="511.8" cy="87.0" r="1.8"/><circle cx="512.2" cy="89.5" r="1.8"/><circle cx="512.6" cy="92.0" r="1.8"/><circle cx="512.5" cy="61.0" r="1.8"/><circle cx="513.5" cy="62.5" r="1.8"/></g>
<path d="M512.30,65.00 L512.50,58.00 L513.50,51.50 L515.50,46.50 L517.50,45.00 L519.50,49.30 L521.00,56.00 L523.20,62.70 L524.70,68.00 L526.20,73.20 L527.70,78.00" fill="none" stroke="#8c564b" stroke-width="3.2" stroke-linejoin="round" stroke-linecap="round" clip-path="url(#cr)"/>
<path d="M529.80,41.30 C530.08,41.38 530.97,41.02 531.50,41.80 C532.03,42.58 532.47,43.52 533.00,46.00 C533.53,48.48 533.95,52.42 534.70,56.70 C535.45,60.98 536.57,66.82 537.50,71.70 C538.43,76.58 539.22,81.78 540.30,86.00 C541.38,90.22 542.88,93.73 544.00,97.00 C545.12,100.27 545.83,102.93 547.00,105.60 C548.17,108.27 549.50,110.52 551.00,113.00 C552.50,115.48 554.07,117.50 556.00,120.50 C557.93,123.50 560.77,128.33 562.60,131.00 C564.43,133.67 565.13,134.85 567.00,136.50 C568.87,138.15 571.30,139.82 573.80,140.90 C576.30,141.98 578.98,142.50 582.00,143.00 C585.02,143.50 585.73,143.57 591.90,143.90 C598.07,144.23 608.65,144.82 619.00,145.00 C629.35,145.18 648.17,145.00 654.00,145.00" fill="none" stroke="#8c564b" stroke-width="3.0" stroke-linejoin="round" stroke-linecap="round" clip-path="url(#cr)"/>
<path d="M390.00,205.30 C398.33,205.30 424.17,205.52 440.00,205.30 C455.83,205.08 472.92,204.35 485.00,204.00 C497.08,203.65 507.58,203.70 512.50,203.20 C517.42,202.70 514.17,201.37 514.50,201.00" fill="none" stroke="#e377c2" stroke-width="3.0" stroke-linejoin="round" stroke-linecap="round" clip-path="url(#cr)"/>
<g fill="#e377c2" clip-path="url(#cr)"><circle cx="515.0" cy="199.8" r="1.8"/><circle cx="516.6" cy="195.8" r="1.8"/><circle cx="517.4" cy="190.9" r="1.8"/><circle cx="518.2" cy="186.0" r="1.8"/><circle cx="519.0" cy="181.2" r="1.8"/><circle cx="519.8" cy="177.1" r="1.8"/><circle cx="520.3" cy="172.3" r="1.8"/><circle cx="520.6" cy="165.0" r="1.8"/><circle cx="521.2" cy="144.3" r="1.8"/><circle cx="521.5" cy="131.8" r="1.8"/><circle cx="522.3" cy="122.8" r="1.8"/><circle cx="522.3" cy="115.3" r="1.8"/><circle cx="526.3" cy="83.3" r="1.8"/><circle cx="527.8" cy="75.0" r="1.8"/><circle cx="527.0" cy="66.8" r="1.8"/><circle cx="528.3" cy="65.5" r="1.8"/><circle cx="529.0" cy="61.6" r="1.8"/><circle cx="530.6" cy="55.5" r="1.8"/><circle cx="532.0" cy="49.5" r="1.8"/><circle cx="533.6" cy="43.5" r="1.8"/></g>
<path d="M534.30,41.30 C534.83,42.30 536.33,44.73 537.50,47.30 C538.67,49.87 540.05,53.25 541.30,56.70 C542.55,60.15 543.75,64.25 545.00,68.00 C546.25,71.75 547.70,76.20 548.80,79.20 C549.90,82.20 550.40,83.20 551.60,86.00 C552.80,88.80 554.60,93.00 556.00,96.00 C557.40,99.00 558.50,101.25 560.00,104.00 C561.50,106.75 563.17,109.75 565.00,112.50 C566.83,115.25 569.00,118.17 571.00,120.50 C573.00,122.83 574.67,124.42 577.00,126.50 C579.33,128.58 582.17,131.25 585.00,133.00 C587.83,134.75 591.00,136.03 594.00,137.00 C597.00,137.97 598.83,138.25 603.00,138.80 C607.17,139.35 610.50,140.02 619.00,140.30 C627.50,140.58 648.17,140.47 654.00,140.50" fill="none" stroke="#e377c2" stroke-width="3.0" stroke-linejoin="round" stroke-linecap="round" clip-path="url(#cr)"/>
<text x="404.00" y="60.60" font-size="19.5" text-anchor="start">b</text>
<rect x="575.9" y="21.4" width="85.10" height="75.90" fill="#fff" stroke="none"/>
<path d="M575.00,92.80 C575.95,92.83 577.90,93.30 580.70,93.00 C583.50,92.70 588.92,91.43 591.80,91.00 C594.68,90.57 596.63,90.73 598.00,90.40 C599.37,90.07 599.42,90.73 600.00,89.00 C600.58,87.27 601.00,83.50 601.50,80.00 C602.00,76.50 602.50,73.83 603.00,68.00 C603.50,62.17 604.08,52.17 604.50,45.00 C604.92,37.83 605.33,28.33 605.50,25.00" fill="none" stroke="#9467bd" stroke-width="2.6" stroke-linejoin="round" stroke-linecap="round" clip-path="url(#cri)"/>
<g fill="#1f77b4" clip-path="url(#cri)"><circle cx="582.5" cy="92.0" r="1.35"/><circle cx="585.0" cy="90.0" r="1.35"/><circle cx="587.0" cy="88.0" r="1.35"/><circle cx="588.8" cy="84.5" r="1.35"/><circle cx="590.2" cy="81.0" r="1.35"/><circle cx="591.2" cy="77.0" r="1.35"/><circle cx="592.0" cy="72.0" r="1.35"/><circle cx="592.7" cy="67.5" r="1.35"/><circle cx="593.5" cy="63.0" r="1.35"/><circle cx="594.2" cy="58.5" r="1.35"/><circle cx="595.0" cy="54.0" r="1.35"/><circle cx="595.6" cy="50.0" r="1.35"/><circle cx="596.3" cy="46.0" r="1.35"/><circle cx="597.0" cy="43.0" r="1.35"/><circle cx="597.6" cy="40.0" r="1.35"/><circle cx="598.3" cy="37.0" r="1.35"/><circle cx="599.0" cy="34.5" r="1.35"/><circle cx="599.8" cy="32.0" r="1.35"/><circle cx="600.6" cy="30.0" r="1.35"/><circle cx="601.5" cy="28.0" r="1.35"/><circle cx="602.4" cy="26.5" r="1.35"/><circle cx="593.5" cy="44.0" r="1.35"/><circle cx="594.3" cy="40.0" r="1.35"/><circle cx="595.5" cy="37.0" r="1.35"/><circle cx="596.8" cy="34.0" r="1.35"/><circle cx="597.0" cy="52.0" r="1.35"/><circle cx="598.0" cy="48.0" r="1.35"/><circle cx="599.0" cy="45.0" r="1.35"/><circle cx="592.5" cy="56.0" r="1.35"/><circle cx="591.5" cy="62.0" r="1.35"/></g>
<g fill="#2ca02c" clip-path="url(#cri)"><path d="M594.1,84.3 L595.6,87.1 L592.6,87.1Z"/><path d="M595.7,78.3 L597.2,81.1 L594.2,81.1Z"/><path d="M597.3,72.3 L598.8,75.1 L595.8,75.1Z"/><path d="M598.9,66.3 L600.4,69.1 L597.4,69.1Z"/><path d="M600.4,60.6 L601.9,63.4 L598.9,63.4Z"/><path d="M600.8,54.3 L602.3,57.1 L599.3,57.1Z"/><path d="M601.2,48.3 L602.7,51.1 L599.7,51.1Z"/><path d="M601.6,43.3 L603.1,46.1 L600.1,46.1Z"/><path d="M602.0,38.3 L603.5,41.1 L600.5,41.1Z"/><path d="M602.4,33.3 L603.9,36.1 L600.9,36.1Z"/><path d="M602.8,29.3 L604.3,32.1 L601.3,32.1Z"/><path d="M599.5,88.3 L601.0,91.1 L598.0,91.1Z"/><path d="M601.0,82.3 L602.5,85.1 L599.5,85.1Z"/></g>
<path d="M598.00,93.90 C598.28,92.83 599.30,89.87 599.70,87.50 C600.10,85.13 600.15,82.32 600.40,79.70 C600.65,77.08 600.93,74.43 601.20,71.80 C601.47,69.17 601.73,67.53 602.00,63.90 C602.27,60.27 602.55,54.82 602.80,50.00 C603.05,45.18 603.30,38.83 603.50,35.00 C603.70,31.17 603.82,28.58 604.00,27.00 C604.18,25.42 604.50,25.75 604.60,25.50" fill="none" stroke="#8c564b" stroke-width="2.4" stroke-linejoin="round" stroke-linecap="round" clip-path="url(#cri)"/>
<g fill="#ff7f0e" clip-path="url(#cri)"><rect x="600.2" y="78.7" width="2.6" height="2.6"/><rect x="601.2" y="72.7" width="2.6" height="2.6"/><rect x="601.9" y="66.7" width="2.6" height="2.6"/><rect x="602.5" y="61.7" width="2.6" height="2.6"/><rect x="603.2" y="56.7" width="2.6" height="2.6"/><rect x="604.2" y="54.7" width="2.6" height="2.6"/></g>
<path d="M605.50,25.00 C606.13,25.42 608.10,25.33 609.30,27.50 C610.50,29.67 611.58,34.42 612.70,38.00 C613.82,41.58 615.08,46.42 616.00,49.00 C616.92,51.58 617.43,52.28 618.20,53.50 C618.97,54.72 619.72,55.50 620.60,56.30 C621.48,57.10 622.38,57.75 623.50,58.30 C624.62,58.85 625.72,59.25 627.30,59.60 C628.88,59.95 630.88,60.22 633.00,60.40 C635.12,60.58 635.17,60.63 640.00,60.70 C644.83,60.77 658.33,60.78 662.00,60.80" fill="none" stroke="#1f77b4" stroke-width="2.7" stroke-linejoin="round" stroke-linecap="round" clip-path="url(#cri)"/>
<path d="M604.50,25.00 C605.00,25.83 606.50,27.83 607.50,30.00 C608.50,32.17 609.50,35.50 610.50,38.00 C611.50,40.50 612.50,43.00 613.50,45.00 C614.50,47.00 615.62,48.73 616.50,50.00 C617.38,51.27 618.42,52.17 618.80,52.60" fill="none" stroke="#2ca02c" stroke-width="2.7" stroke-linejoin="round" stroke-linecap="round" clip-path="url(#cri)"/>
<path d="M620.40,45.50 C620.92,45.88 622.48,47.18 623.50,47.80 C624.52,48.42 625.42,48.78 626.50,49.20 C627.58,49.62 627.75,50.02 630.00,50.30 C632.25,50.58 634.67,50.78 640.00,50.90 C645.33,51.02 658.33,50.98 662.00,51.00" fill="none" stroke="#2ca02c" stroke-width="2.7" stroke-linejoin="round" stroke-linecap="round" clip-path="url(#cri)"/>
<path d="M606.50,26.00 C606.78,26.67 607.55,27.23 608.20,30.00 C608.85,32.77 609.65,38.67 610.40,42.60 C611.15,46.53 612.02,50.90 612.70,53.60 C613.38,56.30 613.92,57.27 614.50,58.80 C615.08,60.33 615.53,61.50 616.20,62.80 C616.87,64.10 617.77,65.50 618.50,66.60 C619.23,67.70 619.77,68.53 620.60,69.40 C621.43,70.27 622.38,71.10 623.50,71.80 C624.62,72.50 625.72,73.10 627.30,73.60 C628.88,74.10 630.88,74.52 633.00,74.80 C635.12,75.08 635.17,75.18 640.00,75.30 C644.83,75.42 658.33,75.47 662.00,75.50" fill="none" stroke="#ff7f0e" stroke-width="2.7" stroke-linejoin="round" stroke-linecap="round" clip-path="url(#cri)"/>
<path d="M606.00,25.20 C606.55,25.92 608.30,26.60 609.30,29.50 C610.30,32.40 611.05,38.27 612.00,42.60 C612.95,46.93 614.13,52.52 615.00,55.50 C615.87,58.48 616.47,59.08 617.20,60.50 C617.93,61.92 618.52,62.98 619.40,64.00 C620.28,65.02 621.37,65.83 622.50,66.60 C623.63,67.37 624.62,68.07 626.20,68.60 C627.78,69.13 629.70,69.52 632.00,69.80 C634.30,70.08 635.00,70.20 640.00,70.30 C645.00,70.40 658.33,70.38 662.00,70.40" fill="none" stroke="#9467bd" stroke-width="2.7" stroke-linejoin="round" stroke-linecap="round" clip-path="url(#cri)"/>
<path d="M604.80,25.20 C605.37,25.58 607.08,24.98 608.20,27.50 C609.32,30.02 610.48,36.33 611.50,40.30 C612.52,44.27 613.50,48.55 614.30,51.30 C615.10,54.05 615.63,55.28 616.30,56.80 C616.97,58.32 617.43,59.27 618.30,60.40 C619.17,61.53 620.38,62.70 621.50,63.60 C622.62,64.50 623.25,65.10 625.00,65.80 C626.75,66.50 629.50,67.33 632.00,67.80 C634.50,68.27 635.00,68.43 640.00,68.60 C645.00,68.77 658.33,68.77 662.00,68.80" fill="none" stroke="#8c564b" stroke-width="2.7" stroke-linejoin="round" stroke-linecap="round" clip-path="url(#cri)"/>
<path d="M575.00,94.30 C578.83,94.32 593.92,94.45 598.00,94.40 C602.08,94.35 598.97,94.35 599.50,94.00 C600.03,93.65 600.65,93.90 601.20,92.30 C601.75,90.70 602.40,87.03 602.80,84.40 C603.20,81.77 603.33,79.13 603.60,76.50 C603.87,73.87 604.13,71.23 604.40,68.60 C604.67,65.97 604.97,63.80 605.20,60.70 C605.43,57.60 605.62,53.45 605.80,50.00 C605.98,46.55 606.17,43.33 606.30,40.00 C606.43,36.67 606.48,32.58 606.60,30.00 C606.72,27.42 606.68,25.08 607.00,24.50 C607.32,23.92 607.93,25.00 608.50,26.50 C609.07,28.00 609.70,30.82 610.40,33.50 C611.10,36.18 611.93,39.63 612.70,42.60 C613.47,45.57 614.32,49.13 615.00,51.30 C615.68,53.47 616.25,54.43 616.80,55.60 C617.35,56.77 617.68,57.42 618.30,58.30 C618.92,59.18 619.75,60.17 620.50,60.90 C621.25,61.63 621.88,62.13 622.80,62.70 C623.72,63.27 624.87,63.88 626.00,64.30 C627.13,64.72 628.10,64.93 629.60,65.20 C631.10,65.47 633.27,65.73 635.00,65.90 C636.73,66.07 635.50,66.12 640.00,66.20 C644.50,66.28 658.33,66.37 662.00,66.40" fill="none" stroke="#e377c2" stroke-width="2.7" stroke-linejoin="round" stroke-linecap="round" clip-path="url(#cri)"/>
<rect x="575.9" y="21.4" width="85.10" height="75.90" fill="none" stroke="#262626" stroke-width="1"/>
<line x1="583.40" y1="14.20" x2="583.40" y2="21.40" stroke="#262626" stroke-width="0.9"/>
<text x="572.47" y="10.10" font-size="11.5">10</text>
<rect x="584.02" y="3.20" width="4.96" height="0.61" fill="#1a1a1a"/>
<text x="590.03" y="5.60" font-size="8.4">3</text>
<line x1="614.40" y1="14.20" x2="614.40" y2="21.40" stroke="#262626" stroke-width="0.9"/>
<text x="606.93" y="10.10" font-size="11.5">10</text>
<text x="617.74" y="5.60" font-size="8.4">1</text>
<line x1="645.50" y1="14.20" x2="645.50" y2="21.40" stroke="#262626" stroke-width="0.9"/>
<text x="637.82" y="10.10" font-size="11.5">10</text>
<text x="648.88" y="5.60" font-size="8.4">5</text>
<line x1="661.00" y1="94.20" x2="667.80" y2="94.20" stroke="#262626" stroke-width="0.9"/>
<text x="671.20" y="98.50" font-size="11.5" text-anchor="start">0.0</text>
<line x1="661.00" y1="59.55" x2="667.80" y2="59.55" stroke="#262626" stroke-width="0.9"/>
<text x="671.20" y="63.85" font-size="11.5" text-anchor="start">0.5</text>
<line x1="661.00" y1="24.90" x2="667.80" y2="24.90" stroke="#262626" stroke-width="0.9"/>
<text x="671.20" y="29.20" font-size="11.5" text-anchor="start">1.0</text>
<path d="M618.55,83.80 L622.90,92.30 L614.30,92.30 Z M618.19,85.63 L615.26,91.50 L621.20,91.50 Z" fill="#1a1a1a" fill-rule="evenodd"/>
<line x1="623.90" y1="94.6" x2="627.70" y2="83.4" stroke="#1a1a1a" stroke-width="0.85"/>
<path d="M633.60,83.80 L638.00,92.30 L629.30,92.30 Z M633.24,85.61 L630.26,91.50 L636.29,91.50 Z" fill="#1a1a1a" fill-rule="evenodd"/>
<circle cx="640.50" cy="86.0" r="1.55" fill="#505050"/>
<text transform="translate(18.8,140.1) rotate(-90)" font-size="29" font-style="italic">P<tspan font-size="23.5" font-style="normal" dy="4.6" dx="-1">∞</tspan></text>
<path d="M337.9,116.0 L354.5,130.8" stroke="#111" stroke-width="1.05" fill="none"/>
<path d="M338.9,130.0 C337.7,129.3 337.5,127.3 339.5,125.6 C342,123.9 346,123.1 349,122.4 C352,121.7 354.2,120.7 354.6,119.1 C354.8,118.3 354.5,117.7 353.9,117.3" stroke="#111" stroke-width="2.1" fill="none" stroke-linecap="round"/>
<path d="M326.20,242.00 L335.00,259.60 L317.60,259.60 Z M325.49,245.50 L319.29,258.20 L331.84,258.20 Z" fill="#1a1a1a" fill-rule="evenodd"/>
<path d="M349.90,240.90 C345.50,244.50 344.60,249.50 344.60,253.60 C344.60,257.70 345.50,262.70 349.90,266.30 L350.30,265.80 C347.00,262.30 346.30,257.70 346.30,253.60 C346.30,249.50 347.00,244.90 350.30,241.40 Z" fill="#1a1a1a"/>
<path d="M362.80,240.90 C367.20,244.50 368.10,249.50 368.10,253.60 C368.10,257.70 367.20,262.70 362.80,266.30 L362.40,265.80 C365.70,262.30 366.40,257.70 366.40,253.60 C366.40,249.50 365.70,244.90 362.40,241.40 Z" fill="#1a1a1a"/>
<text x="351.5" y="259.6" font-size="24">s</text>
</svg></body></html>
